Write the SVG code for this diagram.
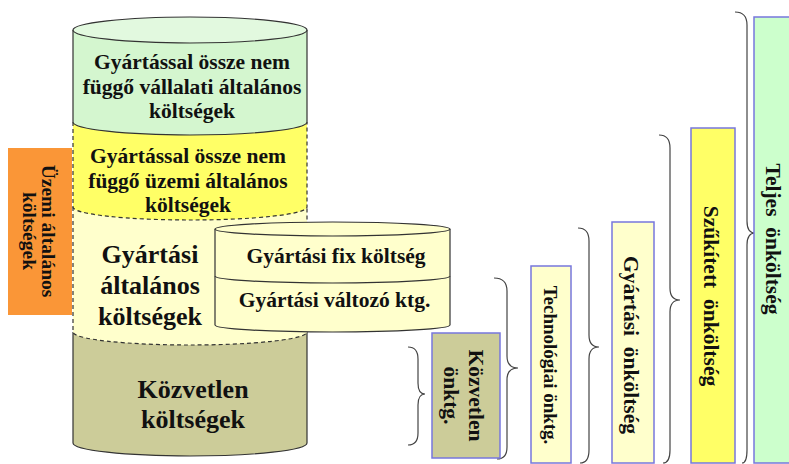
<svg xmlns="http://www.w3.org/2000/svg" width="789" height="464" viewBox="0 0 789 464">
<style>
.t{font-family:"Liberation Serif","Times New Roman",serif;font-weight:bold;fill:#111;text-anchor:middle}
.f21{font-size:21.5px}
.f26{font-size:26px}
.solid{stroke:#333;stroke-width:1.2}
.dash{stroke:#333;stroke-width:1.2;stroke-dasharray:4 3}
.box{stroke:#7777dd;stroke-width:1.5}
.brace{fill:none;stroke:#444;stroke-width:1.2}
</style>
<rect width="789" height="464" fill="#ffffff"/>

<g id="uzemi-altalanos">
<rect x="8" y="148" width="64" height="167" fill="#fa9637"/>
<g transform="translate(40,231) rotate(90)">
<text class="t" style="font-size:19.5px" x="0" y="-2">Üzemi általános</text>
<text class="t" style="font-size:19.5px" x="0" y="17">költségek</text>
</g>
</g>

<g id="kozvetlen-koltsegek">
<path d="M73,332 L73,443 A117,13 0 0 0 307,443 L307,332 Z" fill="#cccc99" stroke="none"/>
<path d="M73,332 L73,443 A117,13 0 0 0 307,443 L307,332" fill="none" class="solid"/>
<text class="t f26" x="193" y="398">Közvetlen</text>
<text class="t f26" x="193" y="428">költségek</text>
</g>

<g id="gyartasi-altalanos">
<path d="M73,207 L73,332 A117,13 0 0 0 307,332 L307,207 Z" fill="#ffffcc" stroke="none"/>
<path d="M73,207 L73,332 A117,13 0 0 0 307,332 L307,207" fill="none" class="dash"/>
<text class="t f26" x="150" y="263">Gyártási</text>
<text class="t f26" x="150" y="294">általános</text>
<text class="t f26" x="150" y="325">költségek</text>
</g>

<g id="uzemi-nem-fuggo">
<path d="M73,122 L73,207 A117,13 0 0 0 307,207 L307,122 Z" fill="#ffff66" stroke="none"/>
<path d="M73,122 L73,207 A117,13 0 0 0 307,207 L307,122" fill="none" class="dash"/>
<text class="t f21" x="188" y="163">Gyártással össze nem</text>
<text class="t f21" x="188" y="187.5">függő üzemi általános</text>
<text class="t f21" x="188" y="212">költségek</text>
</g>

<g id="vallalati-nem-fuggo">
<path d="M73,30 L73,122 A117,13 0 0 0 307,122 L307,30 Z" fill="#d4f6cf" stroke="none"/>
<path d="M73,30 L73,122 A117,13 0 0 0 307,122 L307,30" fill="none" class="solid"/>
<ellipse cx="190" cy="30" rx="117" ry="13" fill="#e2f9df" class="solid"/>
<text class="t f21" x="192" y="69">Gyártással össze nem</text>
<text class="t f21" x="192" y="93.5">függő vállalati általános</text>
<text class="t f21" x="192" y="118">költségek</text>
</g>

<g id="gyartasi-valtozo">
<path d="M215,276 L215,325 A117.5,7 0 0 0 450,325 L450,276 Z" fill="#ffffcc" stroke="none"/>
<path d="M215,276 L215,325 A117.5,7 0 0 0 450,325 L450,276" fill="none" class="solid"/>
<text class="t f21" x="334.5" y="307">Gyártási változó ktg.</text>
</g>

<g id="gyartasi-fix">
<path d="M215,229 L215,276 A117.5,7 0 0 0 450,276 L450,229 Z" fill="#ffffcc" stroke="none"/>
<path d="M215,229 L215,276 A117.5,7 0 0 0 450,276 L450,229" fill="none" class="solid"/>
<ellipse cx="332.5" cy="229" rx="117.5" ry="7" fill="#ffffcc" class="solid"/>
<text class="t f21" x="336" y="263">Gyártási fix költség</text>
</g>

<g id="connectors">
<path class="brace" d="M408,347 Q418,347 418,359 L418,383 Q418,394 425,394 Q418,394 418,405 L418,433 Q418,445 408,445"/>
<path class="brace" d="M494,278 Q507,278 507,291 L507,356 Q507,368 518,368 Q507,368 507,380 L507,447 Q507,459 497,459"/>
<path class="brace" d="M578,228 Q589,228 589,241 L589,335 Q589,347 599,347 Q589,347 589,359 L589,450 Q589,463 580,463"/>
<path class="brace" d="M659,135 Q670,135 670,148 L670,288 Q670,300 680,300 Q670,300 670,312 L670,450 Q670,463 663,463"/>
<path class="brace" d="M735,12 Q747,12 747,25 L747,221 Q747,233 755,233 Q747,233 747,245 L747,450 Q747,463 742,463"/>
</g>

<g id="kozvetlen-onktg">
<rect x="432" y="333" width="68" height="125" fill="#cccc99" class="box"/>
<g transform="translate(466,395.5) rotate(90)">
<text class="t f21" x="0" y="-3">Közvetlen</text>
<text class="t f21" x="0" y="22">önktg.</text>
</g>
</g>

<g id="technologiai-onktg">
<rect x="531" y="266" width="40" height="197" fill="#ffffcc" class="box"/>
<text class="t" style="font-size:19px" transform="translate(544,365) rotate(90)" x="0" y="0">Technológiai önktg.</text>
</g>

<g id="gyartasi-onkoltseg">
<rect x="612" y="222" width="42" height="241" fill="#ffffcc" class="box"/>
<text class="t f21" transform="translate(624,345) rotate(90)" x="0" y="0" xml:space="preserve">Gyártási  önköltség</text>
</g>

<g id="szukitett-onkoltseg">
<rect x="691" y="128" width="44" height="335" fill="#ffff66" class="box"/>
<text class="t f21" transform="translate(704,296) rotate(90)" x="0" y="0" xml:space="preserve">Szűkített  önköltség</text>
</g>

<g id="teljes-onkoltseg">
<rect x="754" y="17" width="50" height="446" fill="#ccffcc" class="box"/>
<text class="t f21" transform="translate(766,239) rotate(90)" x="0" y="0" xml:space="preserve">Teljes  önköltség</text>
</g>
</svg>
